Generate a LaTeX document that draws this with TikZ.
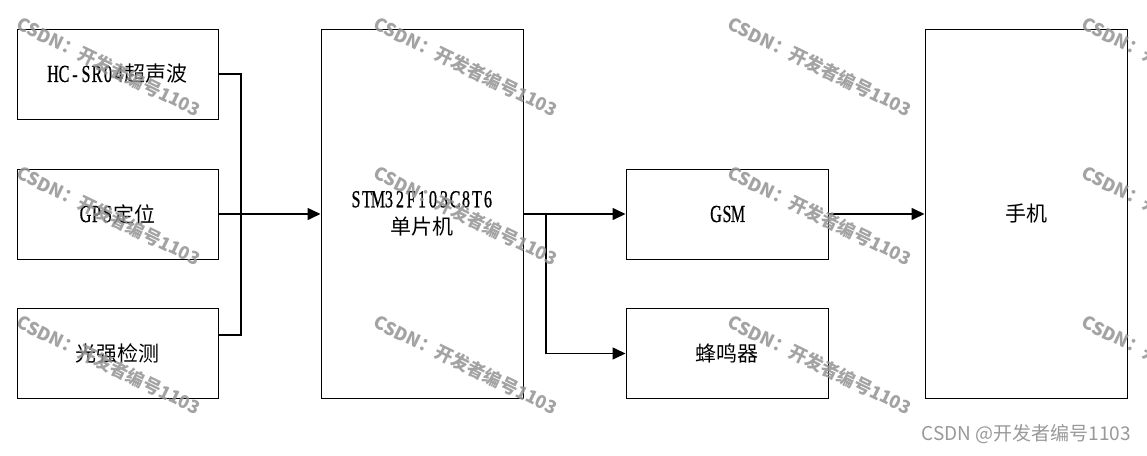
\documentclass[tikz,border=0pt]{standalone}
\usepackage{fontspec}
\setmainfont{Liberation Serif}
\newfontfamily\cjk{Noto Sans CJK SC}
\newfontfamily\latfont{Liberation Serif}[FakeStretch=0.66,FakeBold=0.6]
\usetikzlibrary{arrows.meta}
\makeatletter
\newcommand\latt[1]{{\latfont\fontsize{24.5}{27}\selectfont\lattloop#1\relax}}
\def\lattloop#1{\ifx#1\relax\else\makebox[11pt]{#1}\expandafter\lattloop\fi}
\makeatother
\newcommand\zh[1]{{\cjk\fontsize{21}{27}\selectfont #1}}
\tikzset{
  box/.style={draw, line width=1pt, inner sep=0pt, minimum width=201pt, minimum height=90pt, align=center, font=\fontsize{21}{27}\selectfont},
  tallbox/.style={box, minimum height=369pt},
  conn/.style={line width=1.6pt},
  arr/.style={conn, -{Triangle[length=13pt,width=12pt]}},
  wm/.style={rotate=-26, text=black!42, text opacity=0.85, font=\cjk\bfseries\fontsize{18}{18}\selectfont, inner sep=0pt},
  wmb/.style={text=black!40, font=\cjk\fontsize{19}{19}\selectfont, inner sep=0pt, anchor=east}
}
\begin{document}
\begin{tikzpicture}[x=1pt,y=-1pt]
\useasboundingbox[fill=white] (0,0) rectangle (1147,455);
% boxes
\node[box] (hc) at (117.5,74) {\latt{HC-SR04}\zh{超声波}};
\node[box] (gps) at (117.5,214) {\latt{GPS}\zh{定位}};
\node[box] (light) at (117.5,353.5) {\zh{光强检测}};
\node[tallbox, minimum width=202pt] (stm) at (422,213.5) {\latt{STM32F103C8T6}\\\zh{单片机}};
\node[box, minimum width=202pt] (gsm) at (727,214) {\latt{GSM}};
\node[box, minimum width=202pt] (buzz) at (727,353.5) {\zh{蜂鸣器}};
\node[tallbox, minimum width=202pt] (phone) at (1026,213.5) {\zh{手机}};
% connectors
\coordinate (bus) at (241,214);
\coordinate (lightout) at (218,335);
\coordinate (br) at (546,214);
\draw[conn] (hc.east) -| (bus);
\draw[conn] (lightout) -| (bus);
\draw[arr] (gps.east) -- (gps.east -| stm.west);
\draw[arr] (gsm.west -| stm.east) -- (gsm.west);
\draw[arr] (br) |- (buzz.west);
\draw[arr] (gsm.east) -- (gsm.east -| phone.west);
% watermarks
\foreach \x in {109,466,820,1174}{
  \foreach \y in {67,216,365}{
    \node[wm] at (\x,\y) {CSDN：开发者编号1103};
  }
}
\node[wmb] (credit) at (1131,434) {CSDN @开发者编号1103};
\end{tikzpicture}
\end{document}
